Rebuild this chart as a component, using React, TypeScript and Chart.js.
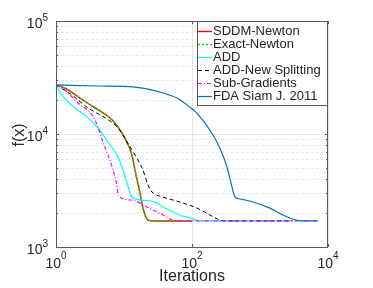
import React, { useEffect, useRef } from "react";
import { Chart, registerables } from "chart.js";

Chart.register(...registerables);

// ---- data ----
const iterNewton = [1, 1.36, 2.25, 3.75, 6.2, 8.2, 10.3, 13.1, 14.5, 17.2, 19, 22.5, 28.6, 100];
const fNewton = [27200, 25500, 20800, 17000, 13900, 11500, 9200, 6520, 4800, 3000, 2210, 1730, 1700, 1700];

const iterExact = [1, 1.36, 2.25, 3.75, 6.2, 8.2, 10.3, 13.1, 14.5, 17.2, 19, 22.5, 28.6, 100];
const fExact = [27200, 25500, 20800, 17000, 13900, 11500, 9200, 6520, 4800, 3000, 2210, 1730, 1700, 1700];

const iterADD = [1, 1.22, 1.9, 2.67, 4.15, 5.8, 7.9, 9.35, 11.1, 13.1, 18.4, 28.6, 37.5, 66.6, 93, 131, 3000];
const fADD = [27200, 22100, 17000, 14700, 11300, 8500, 6520, 5100, 3680, 2770, 2600, 2500, 2260, 1920, 1810, 1700, 1700];

const iterADDNew = [1, 1.72, 2.96, 5.26, 8.2, 11.1, 14.5, 19, 22.5, 25.8, 37.5, 66.6, 118, 184, 257, 300, 3000];
const fADDNew = [27200, 22100, 17000, 13900, 11300, 8500, 6520, 4800, 3540, 3070, 2770, 2500, 2210, 1920, 1730, 1700, 1700];

const iterSub = [1, 1.36, 2.1, 3.4, 4.15, 4.9, 5.8, 6.9, 7.9, 8.2, 13.1, 21.8, 37.5, 52.5, 79, 7130];
const fSub = [27200, 24500, 18800, 14700, 11500, 8500, 6520, 4800, 3400, 2830, 2600, 2260, 1920, 1730, 1700, 1700];

const iterFDA = [1, 4.43, 13.6, 33.8, 60, 93, 118, 184, 257, 327, 387, 429, 508, 789, 1400, 2180, 3270, 4000, 7130];
const fFDA = [27200, 26600, 26100, 23500, 20800, 17300, 15300, 10800, 7510, 5100, 3400, 2770, 2660, 2500, 2210, 1920, 1740, 1705, 1700];

const seriesNames = ["SDDM-Newton", "Exact-Newton", "ADD", "ADD-New Splitting", "Sub-Gradients", "FDA Siam J. 2011"];
const xTickValues = [1, 100, 10000];
const xTickExps = ["0", "2", "4"];
const yTickValues = [1000, 10000, 100000];
const yTickExps = ["3", "4", "5"];
const xLabel = "Iterations";
const yLabel = "f(x)";

const FONT = "'Liberation Sans', Arial, Helvetica, sans-serif";
const TXT = "#262626";
const AXC = "#5a5a5a";

const styles = [
  { color: "#ff0000", dash: [] as number[], width: 1.4 },
  { color: "#00ee00", dash: [2, 2], width: 1.4 },
  { color: "#00ffff", dash: [] as number[], width: 1.2 },
  { color: "#000000", dash: [4, 3], width: 1.0 },
  { color: "#ff00ff", dash: [4, 2, 1, 2], width: 1.2 },
  { color: "#0072bd", dash: [] as number[], width: 1.2 },
];

function pts(xs: number[], ys: number[]) {
  return xs.map((x, i) => ({ x, y: ys[i] }));
}

const matlabPlugin = {
  id: "matlabDecor",
  beforeDatasetsDraw(chart: any) {
    const { ctx, chartArea: a, scales } = chart;
    const xs = scales.x, ys = scales.y;
    ctx.save();
    // minor y grid (dashed)
    ctx.strokeStyle = "#ebebeb";
    ctx.lineWidth = 1;
    ctx.setLineDash([3, 2]);
    for (let d = 1000; d < 100000; d *= 10) {
      for (let m = 2; m <= 9; m++) {
        const y = Math.round(ys.getPixelForValue(d * m)) + 0.5;
        ctx.beginPath();
        ctx.moveTo(a.left, y);
        ctx.lineTo(a.right, y);
        ctx.stroke();
      }
    }
    ctx.setLineDash([]);
    // major grid (solid)
    ctx.strokeStyle = "#e6e6e6";
    for (const v of yTickValues) {
      const y = Math.round(ys.getPixelForValue(v)) + 0.5;
      ctx.beginPath();
      ctx.moveTo(a.left, y);
      ctx.lineTo(a.right, y);
      ctx.stroke();
    }
    for (const v of xTickValues) {
      const x = Math.round(xs.getPixelForValue(v)) + 0.5;
      ctx.beginPath();
      ctx.moveTo(x, a.top);
      ctx.lineTo(x, a.bottom);
      ctx.stroke();
    }
    ctx.restore();
  },
  afterDatasetsDraw(chart: any) {
    const { ctx, chartArea: a, scales } = chart;
    const xs = scales.x, ys = scales.y;
    ctx.save();
    // box
    ctx.strokeStyle = AXC;
    ctx.lineWidth = 1;
    ctx.strokeRect(Math.round(a.left) + 0.5, Math.round(a.top) + 0.5, Math.round(a.right - a.left) - 1, Math.round(a.bottom - a.top));
    // y ticks (major + minor) on left and right
    for (let d = 1000; d <= 100000; d *= 10) {
      for (let m = 1; m <= 9; m++) {
        if (d * m > 100000) break;
        const y = Math.round(ys.getPixelForValue(d * m)) + 0.5;
        const len = m === 1 ? 3 : 2;
        ctx.beginPath();
        ctx.moveTo(a.left, y);
        ctx.lineTo(a.left + len, y);
        ctx.moveTo(a.right, y);
        ctx.lineTo(a.right - len, y);
        ctx.stroke();
      }
    }
    for (const v of xTickValues) {
      const x = Math.round(xs.getPixelForValue(v)) + 0.5;
      ctx.beginPath();
      ctx.moveTo(x, a.bottom);
      ctx.lineTo(x, a.bottom - 3);
      ctx.moveTo(x, a.top);
      ctx.lineTo(x, a.top + 3);
      ctx.stroke();
    }

    // legend box
    const lx = 197, ly = a.top, lw = a.right - 197, lh = 84;
    ctx.fillStyle = "#ffffff";
    ctx.fillRect(lx, ly, lw, lh);
    ctx.strokeStyle = AXC;
    ctx.strokeRect(lx + 0.5, ly + 0.5, lw - 1, lh);
    ctx.font = `13px ${FONT}`;
    ctx.textBaseline = "middle";
    ctx.textAlign = "left";
    for (let i = 0; i < seriesNames.length; i++) {
      const cy = 30.7 + 13.06 * i;
      const st = styles[i];
      ctx.strokeStyle = st.color;
      ctx.lineWidth = st.width;
      ctx.setLineDash(st.dash);
      ctx.beginPath();
      ctx.moveTo(198, Math.round(cy) + 0.5);
      ctx.lineTo(212, Math.round(cy) + 0.5);
      ctx.stroke();
      ctx.setLineDash([]);
      ctx.fillStyle = TXT;
      ctx.fillText(seriesNames[i], 213, cy + 0.5);
    }
    ctx.restore();
  },
  afterDraw(chart: any) {
    const { ctx, chartArea: a, scales } = chart;
    const xs = scales.x, ys = scales.y;
    ctx.save();
    ctx.fillStyle = TXT;
    ctx.textBaseline = "middle";
    // x tick labels
    for (let i = 0; i < xTickValues.length; i++) {
      const x = xs.getPixelForValue(xTickValues[i]);
      ctx.font = `14px ${FONT}`;
      const w10 = ctx.measureText("10").width;
      ctx.font = `10px ${FONT}`;
      const we = ctx.measureText(xTickExps[i]).width;
      const left = x - (w10 + we) / 2;
      ctx.font = `14px ${FONT}`;
      ctx.textAlign = "left";
      ctx.fillText("10", left, a.bottom + 17);
      ctx.font = `10px ${FONT}`;
      ctx.fillText(xTickExps[i], left + w10, a.bottom + 9);
    }
    // y tick labels
    for (let i = 0; i < yTickValues.length; i++) {
      const y = ys.getPixelForValue(yTickValues[i]);
      ctx.font = `10px ${FONT}`;
      const we = ctx.measureText(yTickExps[i]).width;
      ctx.textAlign = "left";
      const right = a.left - 8;
      ctx.fillText(yTickExps[i], right - we, y - 3);
      ctx.font = `14px ${FONT}`;
      ctx.textAlign = "right";
      ctx.fillText("10", right - we, y + 3.5);
    }
    // axis titles
    ctx.font = `16px ${FONT}`;
    ctx.textAlign = "center";
    ctx.fillText(xLabel, (a.left + a.right) / 2, 277);
    ctx.save();
    ctx.translate(20, (a.top + a.bottom) / 2 + 1);
    ctx.rotate(-Math.PI / 2);
    ctx.fillText(yLabel, 0, 0);
    ctx.restore();
    ctx.restore();
  },
};

export default function App() {
  const ref = useRef<HTMLCanvasElement | null>(null);
  useEffect(() => {
    if (!ref.current) return;
    const series = [
      pts(iterNewton, fNewton),
      pts(iterExact, fExact),
      pts(iterADD, fADD),
      pts(iterADDNew, fADDNew),
      pts(iterSub, fSub),
      pts(iterFDA, fFDA),
    ];
    const datasets = series.map((data, i) => ({
      label: seriesNames[i],
      data,
      borderColor: styles[i].color,
      backgroundColor: styles[i].color,
      borderWidth: styles[i].width,
      borderDash: styles[i].dash,
      pointRadius: 0,
      fill: false,
      cubicInterpolationMode: "monotone" as const,
      order: 6 - i,
    }));
    const chart = new Chart(ref.current, {
      type: "line",
      data: { datasets },
      plugins: [matlabPlugin],
      options: {
        animation: false,
        responsive: false,
        devicePixelRatio: 1,
        layout: { padding: { top: 21, right: 45, left: 0, bottom: 0 } },
        plugins: { legend: { display: false }, tooltip: { enabled: false } },
        scales: {
          x: {
            type: "logarithmic",
            min: 1,
            max: 10000,
            ticks: { display: false },
            grid: { display: false },
            border: { display: false },
            afterFit: (s: any) => { s.height = 41; },
          },
          y: {
            type: "logarithmic",
            min: 1000,
            max: 100000,
            ticks: { display: false },
            grid: { display: false },
            border: { display: false },
            afterFit: (s: any) => { s.width = 56; },
          },
        },
      } as any,
    });
    return () => chart.destroy();
  }, []);
  return (
    <div style={{ position: "fixed", left: 0, top: 0, width: 373, height: 288, background: "#fff" }}>
      <canvas ref={ref} width={373} height={288} style={{ width: 373, height: 288, display: "block" }} />
    </div>
  );
}
